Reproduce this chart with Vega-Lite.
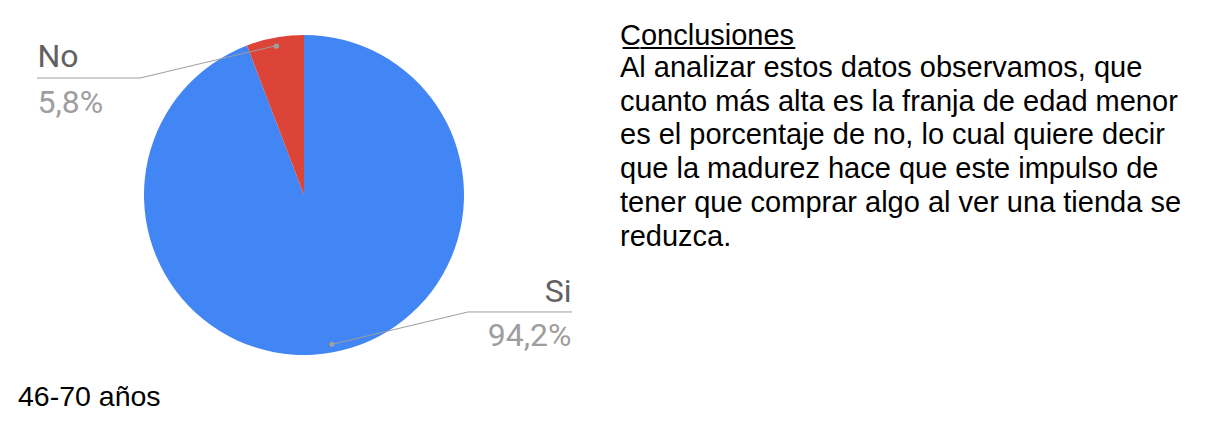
{
  "$schema": "https://vega.github.io/schema/vega-lite/v6.json",
  "background": "white",
  "padding": 0,
  "spacing": 0,
  "config": {"view": {"stroke": null}, "font": "Liberation Sans"},
  "datasets": {
    "respuestas": [
      {"respuesta": "Si", "porcentaje": 94.2, "etiqueta": "94,2%"},
      {"respuesta": "No", "porcentaje": 5.8, "etiqueta": "5,8%"}
    ]
  },
  "hconcat": [
    {
      "width": 608,
      "height": 390,
      "data": {"name": "respuestas"},
      "title": {
        "text": "46-70 años",
        "orient": "bottom",
        "anchor": "start",
        "frame": "group",
        "dx": 18,
        "offset": -28,
        "baseline": "top",
        "font": "Liberation Sans",
        "fontSize": 28.5,
        "fontWeight": "normal",
        "color": "#000000"
      },
      "layer": [
        {
          "mark": {"type": "arc", "outerRadius": 160},
          "encoding": {
            "theta": {"field": "porcentaje", "type": "quantitative", "stack": true},
            "order": {"field": "porcentaje", "sort": "descending"},
            "color": {
              "field": "respuesta",
              "type": "nominal",
              "scale": {"domain": ["Si", "No"], "range": ["#4285F4", "#DB4437"]},
              "legend": null
            }
          }
        },
        {
          "mark": {
            "type": "point",
            "filled": false,
            "size": 102400,
            "stroke": "#9e9e9e",
            "strokeWidth": 1,
            "opacity": 1
          },
          "encoding": {
            "shape": {
              "field": "respuesta",
              "type": "nominal",
              "scale": {
                "domain": ["Si", "No"],
                "range": [
                  "M 0.172 0.934 L 1.025 0.731 L 1.675 0.731",
                  "M -0.172 -0.934 L -1.025 -0.731 L -1.669 -0.731"
                ]
              },
              "legend": null
            }
          }
        },
        {
          "mark": {
            "type": "text",
            "radius": 152,
            "text": "●",
            "font": "DejaVu Sans",
            "fontSize": 7,
            "color": "#9e9e9e",
            "align": "center",
            "baseline": "middle"
          },
          "encoding": {
            "theta": {"field": "porcentaje", "type": "quantitative", "stack": true},
            "order": {"field": "porcentaje", "sort": "descending"},
            "detail": {"field": "respuesta", "type": "nominal"}
          }
        },
        {
          "mark": {
            "type": "text",
            "radius": 152,
            "align": "left",
            "baseline": "alphabetic",
            "dx": -239,
            "dy": 21,
            "font": "Roboto",
            "color": "#616161"
          },
          "encoding": {
            "theta": {"field": "porcentaje", "type": "quantitative", "stack": true},
            "order": {"field": "porcentaje", "sort": "descending"},
            "detail": {"field": "respuesta", "type": "nominal"},
            "size": {"condition": {"test": "datum.respuesta === 'No'", "value": 32}, "value": 0},
            "text": {
              "condition": {"test": "datum.respuesta === 'No'", "field": "respuesta", "type": "nominal"},
              "value": ""
            }
          }
        },
        {
          "mark": {
            "type": "text",
            "radius": 152,
            "align": "left",
            "baseline": "alphabetic",
            "dx": -239,
            "dy": 67,
            "font": "Roboto",
            "color": "#9e9e9e"
          },
          "encoding": {
            "theta": {"field": "porcentaje", "type": "quantitative", "stack": true},
            "order": {"field": "porcentaje", "sort": "descending"},
            "detail": {"field": "respuesta", "type": "nominal"},
            "size": {"condition": {"test": "datum.respuesta === 'No'", "value": 32}, "value": 0},
            "text": {
              "condition": {"test": "datum.respuesta === 'No'", "field": "etiqueta", "type": "nominal"},
              "value": ""
            }
          }
        },
        {
          "mark": {
            "type": "text",
            "radius": 152,
            "align": "right",
            "baseline": "alphabetic",
            "dx": 240,
            "dy": -42,
            "font": "Roboto",
            "color": "#616161"
          },
          "encoding": {
            "theta": {"field": "porcentaje", "type": "quantitative", "stack": true},
            "order": {"field": "porcentaje", "sort": "descending"},
            "detail": {"field": "respuesta", "type": "nominal"},
            "size": {"condition": {"test": "datum.respuesta === 'Si'", "value": 32}, "value": 0},
            "text": {
              "condition": {"test": "datum.respuesta === 'Si'", "field": "respuesta", "type": "nominal"},
              "value": ""
            }
          }
        },
        {
          "mark": {
            "type": "text",
            "radius": 152,
            "align": "right",
            "baseline": "alphabetic",
            "dx": 240,
            "dy": 2,
            "font": "Roboto",
            "color": "#9e9e9e"
          },
          "encoding": {
            "theta": {"field": "porcentaje", "type": "quantitative", "stack": true},
            "order": {"field": "porcentaje", "sort": "descending"},
            "detail": {"field": "respuesta", "type": "nominal"},
            "size": {"condition": {"test": "datum.respuesta === 'Si'", "value": 32}, "value": 0},
            "text": {
              "condition": {"test": "datum.respuesta === 'Si'", "field": "etiqueta", "type": "nominal"},
              "value": ""
            }
          }
        }
      ]
    },
    {
      "width": 600,
      "height": 10,
      "data": {"values": []},
      "mark": {"type": "text"},
      "encoding": {"text": {"value": ""}},
      "title": {
        "text": "C̲o̲n̲c̲l̲u̲s̲i̲o̲n̲e̲s̲",
        "subtitle": [
          "Al analizar estos datos observamos, que",
          "cuanto más alta es la franja de edad menor",
          "es el porcentaje de no, lo cual quiere decir",
          "que la madurez hace que este impulso de",
          "tener que comprar algo al ver una tienda se",
          "reduzca."
        ],
        "orient": "bottom",
        "anchor": "start",
        "frame": "group",
        "dx": 12,
        "offset": 12,
        "baseline": "top",
        "font": "Liberation Sans",
        "fontSize": 29,
        "fontWeight": "normal",
        "color": "#000000",
        "subtitleFont": "Liberation Sans",
        "subtitleFontSize": 29,
        "subtitleColor": "#000000",
        "subtitleLineHeight": 33.7,
        "subtitlePadding": 3
      }
    }
  ]
}
